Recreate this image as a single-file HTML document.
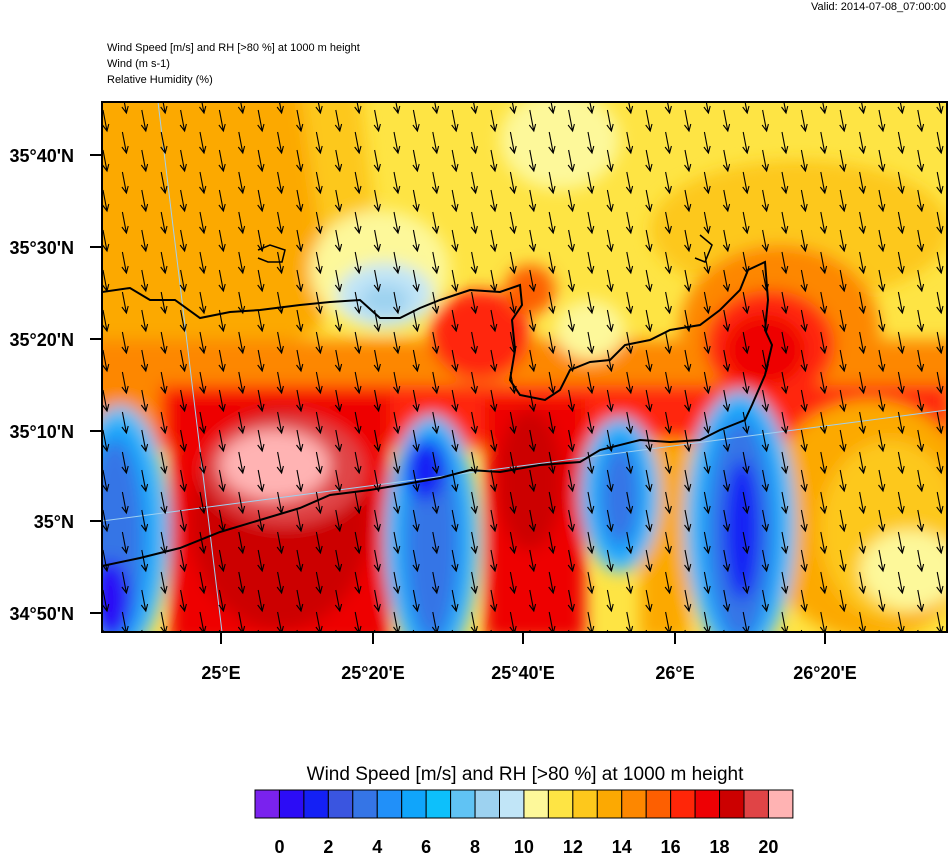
<!DOCTYPE html>
<html><head><meta charset="utf-8"><style>
body{margin:0;background:#fff;width:948px;height:854px;overflow:hidden;font-family:"Liberation Sans",sans-serif}
svg{position:absolute;left:0;top:0}
</style></head><body>
<svg width="948" height="854" xmlns="http://www.w3.org/2000/svg" font-family="Liberation Sans, sans-serif">
<defs>
<clipPath id="pc"><rect x="102" y="102" width="845" height="530"/></clipPath>
<filter id="bl" x="-20%" y="-20%" width="140%" height="140%"><feGaussianBlur stdDeviation="8"/></filter>
</defs>
<text x="946" y="10" font-size="11" text-anchor="end">Valid: 2014-07-08_07:00:00</text>
<text x="107" y="51" font-size="11">Wind Speed [m/s] and RH [&gt;80 %] at 1000 m height</text>
<text x="107" y="67" font-size="11">Wind   (m s-1)</text>
<text x="107" y="83" font-size="11">Relative Humidity   (%)</text>
<g clip-path="url(#pc)">
<rect x="102" y="102" width="845" height="530" fill="#fee444"/>
<g filter="url(#bl)">
<path d="M90 90 L300 90 L330 250 L320 330 L90 420 Z" fill="#fca902"/>
<path d="M300 90 L360 90 L380 250 L330 300 Z" fill="#fdc81c"/>
<ellipse cx="560" cy="140" rx="60" ry="50" fill="#fdf89a"/>
<ellipse cx="800" cy="230" rx="150" ry="70" fill="#fdc81c"/>
<ellipse cx="380" cy="270" rx="70" ry="60" fill="#fdf89a"/>
<ellipse cx="385" cy="295" rx="48" ry="32" fill="#c1e5f7"/>
<ellipse cx="385" cy="300" rx="25" ry="16" fill="#9dd2f0"/>
<rect x="90" y="340" width="870" height="110" fill="#fd8700"/>
<ellipse cx="780" cy="330" rx="100" ry="85" fill="#fd8700"/>
<ellipse cx="770" cy="345" rx="65" ry="55" fill="#ff2608"/>
<ellipse cx="765" cy="350" rx="40" ry="35" fill="#ee0004"/>
<ellipse cx="480" cy="335" rx="50" ry="45" fill="#ff2608"/>
<ellipse cx="530" cy="290" rx="25" ry="25" fill="#fd5f01"/>
<ellipse cx="590" cy="330" rx="35" ry="30" fill="#fdf89a"/>
<rect x="160" y="385" width="790" height="60" fill="#ff2608"/>
<ellipse cx="870" cy="520" rx="110" ry="120" fill="#fca902"/>
<ellipse cx="890" cy="530" rx="70" ry="90" fill="#fdc81c"/>
<ellipse cx="910" cy="570" rx="50" ry="40" fill="#fdf89a"/>
<rect x="640" y="440" width="50" height="200" fill="#fca902"/>
<rect x="170" y="395" width="220" height="250" fill="#ee0004"/>
<ellipse cx="280" cy="520" rx="90" ry="110" fill="#cc0000"/>
<ellipse cx="285" cy="470" rx="80" ry="55" fill="#e04446"/>
<ellipse cx="275" cy="465" rx="55" ry="35" fill="#ffb3b3"/>
<rect x="485" y="400" width="100" height="240" fill="#ee0004"/>
<ellipse cx="530" cy="480" rx="32" ry="70" fill="#cc0000"/>
<ellipse cx="120" cy="530" rx="50" ry="125" fill="#60c3f4"/>
<ellipse cx="118" cy="535" rx="40" ry="115" fill="#10a5fb"/>
<ellipse cx="115" cy="540" rx="28" ry="100" fill="#3575e6"/>
<ellipse cx="110" cy="600" rx="20" ry="40" fill="#2c0cf6"/>
<ellipse cx="432" cy="540" rx="48" ry="125" fill="#60c3f4"/>
<ellipse cx="432" cy="540" rx="38" ry="115" fill="#10a5fb"/>
<ellipse cx="432" cy="540" rx="26" ry="100" fill="#3575e6"/>
<ellipse cx="425" cy="470" rx="20" ry="30" fill="#1420f5"/>
<ellipse cx="620" cy="495" rx="40" ry="78" fill="#60c3f4"/>
<ellipse cx="620" cy="495" rx="30" ry="68" fill="#10a5fb"/>
<ellipse cx="620" cy="495" rx="18" ry="50" fill="#3575e6"/>
<ellipse cx="740" cy="525" rx="56" ry="135" fill="#60c3f4"/>
<ellipse cx="740" cy="525" rx="45" ry="125" fill="#10a5fb"/>
<ellipse cx="740" cy="530" rx="32" ry="110" fill="#3575e6"/>
<ellipse cx="742" cy="530" rx="18" ry="70" fill="#1420f5"/>
</g>
<g stroke="#9fd0f0" stroke-width="1" fill="none">
<line x1="158" y1="102" x2="222" y2="632"/>
<line x1="102" y1="521" x2="947" y2="410"/>
</g>
<polyline fill="none" stroke="#000" stroke-width="2" points="102,292 130,288 150,300 175,300 200,318 230,312 260,310 300,305 330,302 360,300 380,318 400,318 420,308 440,300 470,290 500,292 520,285 522,305 512,320 515,350 510,380 520,395 545,400 560,390 570,370 590,362 610,360 625,345 650,340 670,330 700,325 720,310 740,290 748,270 765,262 768,300 765,330 772,345 765,375 752,405 745,420 720,430 700,440 670,442 640,440 600,450 580,462 540,465 500,472 470,470 440,478 400,485 370,490 330,495 300,508 260,520 220,532 180,548 140,558 102,566"/>
<polyline fill="none" stroke="#000" stroke-width="1.5" points="258,250 270,245 285,250 282,262 268,262 258,258"/>
<polyline fill="none" stroke="#000" stroke-width="1.5" points="700,235 712,245 705,262 695,258"/>
<g id="arr" stroke="#000" stroke-width="1.1" fill="none"></g>
</g>
<rect x="102" y="102" width="845" height="530" fill="none" stroke="#000" stroke-width="2"/>
<g stroke="#000" stroke-width="2">
<line x1="90" y1="155" x2="102" y2="155"/><line x1="90" y1="247" x2="102" y2="247"/>
<line x1="90" y1="339" x2="102" y2="339"/><line x1="90" y1="431" x2="102" y2="431"/>
<line x1="90" y1="521" x2="102" y2="521"/><line x1="90" y1="613" x2="102" y2="613"/>
<line x1="221" y1="632" x2="221" y2="644"/><line x1="373" y1="632" x2="373" y2="644"/>
<line x1="523" y1="632" x2="523" y2="644"/><line x1="675" y1="632" x2="675" y2="644"/>
<line x1="825" y1="632" x2="825" y2="644"/>
</g>
<g font-size="18" font-weight="bold" text-anchor="end">
<text x="74" y="162">35°40'N</text><text x="74" y="254">35°30'N</text>
<text x="74" y="346">35°20'N</text><text x="74" y="438">35°10'N</text>
<text x="74" y="528">35°N</text><text x="74" y="620">34°50'N</text>
</g>
<g font-size="18" font-weight="bold" text-anchor="middle">
<text x="221" y="679">25°E</text><text x="373" y="679">25°20'E</text>
<text x="523" y="679">25°40'E</text><text x="675" y="679">26°E</text>
<text x="825" y="679">26°20'E</text>
</g>
<text x="525" y="780" font-size="19" text-anchor="middle">Wind Speed [m/s] and RH [&gt;80 %] at 1000 m height</text>
<g id="cb" stroke="#000" stroke-width="1"></g>
<g font-size="18" font-weight="bold" text-anchor="middle" id="cbl"></g>
</svg>
<script>
var a=document.getElementById("arr"),s="";
for(var c=0;c<45;c++){var x=103+c*19.4;for(var y=(c%2?132:110)-40;y<650;y+=40){
var x2=x+4,y2=y+21;
s+='<path d="M'+x+' '+y+'L'+x2+' '+y2+'M'+(x2-4.5)+' '+(y2-6)+'L'+x2+' '+y2+'L'+(x2+1.8)+' '+(y2-7)+'"/>';}}
a.innerHTML=s;
var cols=["#7a22ee","#2c0cf6","#1420f5","#3a55e0","#3575e6","#2190f9","#10a5fb","#0dc0fb","#60c3f4","#9dd2f0","#c1e5f7","#fdf89a","#fee444","#fdc81c","#fca902","#fd8700","#fd5f01","#ff2608","#ee0004","#cc0000","#e04446","#ffb3b3"];
var cb="",w=24.45;for(var i=0;i<22;i++){cb+='<rect x="'+(255+i*w)+'" y="790" width="'+w+'" height="28" fill="'+cols[i]+'"/>';}
document.getElementById("cb").innerHTML=cb;
var l="";for(var i=0;i<11;i++){l+='<text x="'+(255+w+i*2*w)+'" y="853">'+(i*2)+'</text>';}
document.getElementById("cbl").innerHTML=l;
</script>
</body></html>
